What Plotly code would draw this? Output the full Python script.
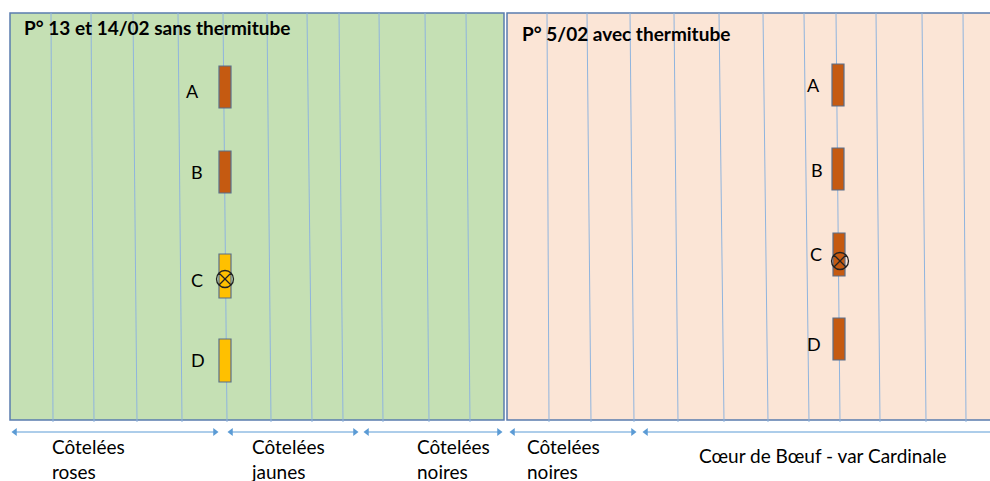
import plotly.graph_objects as go

# ---- data ----
panel_titles = ["P° 13 et 14/02 sans thermitube", "P° 5/02 avec thermitube"]
panel_x0 = [10, 507]
panel_x1 = [504, 996]
panel_y0 = [13, 13]
panel_y1 = [420, 420]
panel_fill = ["#C5E0B4", "#FBE5D6"]

rows_left_top = [51, 91, 133, 178, 223, 267, 307, 339, 379, 425, 466]
rows_left_bot = [53, 94, 137, 182, 227, 271, 312, 343, 383, 429, 470]
rows_right_top = [547, 587, 630, 674, 719, 763, 804, 836, 876, 922, 963]
rows_right_bot = [549, 591, 634, 678, 724, 768, 809, 840, 880, 926, 966]

sensor_names = ["A", "B", "C", "D"]
left_sensor_y0 = [66, 151, 254, 339]
left_sensor_y1 = [108, 193, 298, 382]
left_sensor_x = [219, 219, 219, 219]
left_sensor_color = ["#C55A11", "#C55A11", "#FFC000", "#FFC000"]
left_label_x = [192, 197, 197, 198]
left_label_y = [91, 172, 280, 360]
left_cross = [(225, 279)]

right_sensor_y0 = [64, 148, 233, 318]
right_sensor_y1 = [106, 190, 276, 360]
right_sensor_x = [832, 832, 833, 833]
right_sensor_color = ["#C55A11", "#C55A11", "#C55A11", "#C55A11"]
right_label_x = [813, 817, 816, 814]
right_label_y = [85, 170, 254, 344]
right_cross = [(840, 261)]

variety_labels = ["Côtelées<br>roses", "Côtelées<br>jaunes", "Côtelées<br>noires",
                  "Côtelées<br>noires", "Cœur de Bœuf - var Cardinale"]
variety_x0 = [12, 228, 364, 510, 643]
variety_x1 = [218, 358, 502, 636, 995]
variety_text_x = [50, 249, 415, 525, 697]
variety_text_y = [459, 459, 459, 459, 455]

# ---- figure ----
fig = go.Figure()
shapes = []
annotations = []
FONT = "Lato, Calibri, Carlito, sans-serif"

for i in range(2):
    shapes.append(dict(type="rect", xref="x", yref="y",
                       x0=panel_x0[i], x1=panel_x1[i], y0=panel_y0[i], y1=panel_y1[i],
                       fillcolor=panel_fill[i], line=dict(color="#5A7CAE", width=1.5),
                       layer="below"))

for tops, bots in ((rows_left_top, rows_left_bot), (rows_right_top, rows_right_bot)):
    for xt, xb in zip(tops, bots):
        shapes.append(dict(type="line", xref="x", yref="y", x0=xt, x1=xb, y0=13, y1=422,
                           line=dict(color="#8FB4DE", width=1), layer="below"))

for xs, y0s, y1s, cols in ((left_sensor_x, left_sensor_y0, left_sensor_y1, left_sensor_color),
                           (right_sensor_x, right_sensor_y0, right_sensor_y1, right_sensor_color)):
    for x, y0, y1, c in zip(xs, y0s, y1s, cols):
        shapes.append(dict(type="rect", xref="x", yref="y", x0=x, x1=x + 12, y0=y0, y1=y1,
                           fillcolor=c, line=dict(color="#5A6E8A", width=1.2), layer="below"))

for lx, ly in ((left_label_x, left_label_y), (right_label_x, right_label_y)):
    for n, x, y in zip(sensor_names, lx, ly):
        annotations.append(dict(x=x, y=y, xref="x", yref="y", text=n, showarrow=False,
                                xanchor="center", yanchor="middle",
                                font=dict(family=FONT, size=18, color="#000")))

crosses = left_cross + right_cross
fig.add_trace(go.Scatter(x=[c[0] for c in crosses], y=[c[1] for c in crosses], mode="markers",
                         marker=dict(symbol="circle-x-open", size=17, color="#222",
                                     line=dict(width=1.3, color="#222")),
                         hoverinfo="skip", showlegend=False))

annotations.append(dict(x=22, y=27, xref="x", yref="y", text="<b>" + panel_titles[0] + "</b>",
                        showarrow=False, xanchor="left", yanchor="middle",
                        font=dict(family=FONT, size=19, color="#000")))
annotations.append(dict(x=520, y=33, xref="x", yref="y", text="<b>" + panel_titles[1] + "</b>",
                        showarrow=False, xanchor="left", yanchor="middle",
                        font=dict(family=FONT, size=19, color="#000")))

for x0, x1 in zip(variety_x0, variety_x1):
    fig.add_trace(go.Scatter(x=[x0 + 3, x1 - 3], y=[432, 432], mode="lines",
                             line=dict(color="#5B9BD5", width=1), hoverinfo="skip",
                             showlegend=False))
    fig.add_trace(go.Scatter(x=[x0 + 3, x1 - 3], y=[432, 432], mode="markers",
                             marker=dict(symbol=["triangle-left", "triangle-right"], size=7,
                                         color="#5B9BD5"),
                             hoverinfo="skip", showlegend=False))

for t, x, y in zip(variety_labels, variety_text_x, variety_text_y):
    annotations.append(dict(x=x, y=y, xref="x", yref="y", text=t, showarrow=False,
                            xanchor="left", yanchor="middle", align="left",
                            font=dict(family=FONT, size=19, color="#000")))

fig.update_layout(
    width=990, height=481, margin=dict(l=0, r=0, t=0, b=0), autosize=False,
    paper_bgcolor="white", plot_bgcolor="white",
    xaxis=dict(range=[0, 990], visible=False, fixedrange=True),
    yaxis=dict(range=[481, 0], visible=False, fixedrange=True),
    shapes=shapes, annotations=annotations, showlegend=False,
)
fig.write_html("out.html", config={"displayModeBar": False},
               post_script="document.body.style.margin='0';document.body.style.overflow='hidden';")
